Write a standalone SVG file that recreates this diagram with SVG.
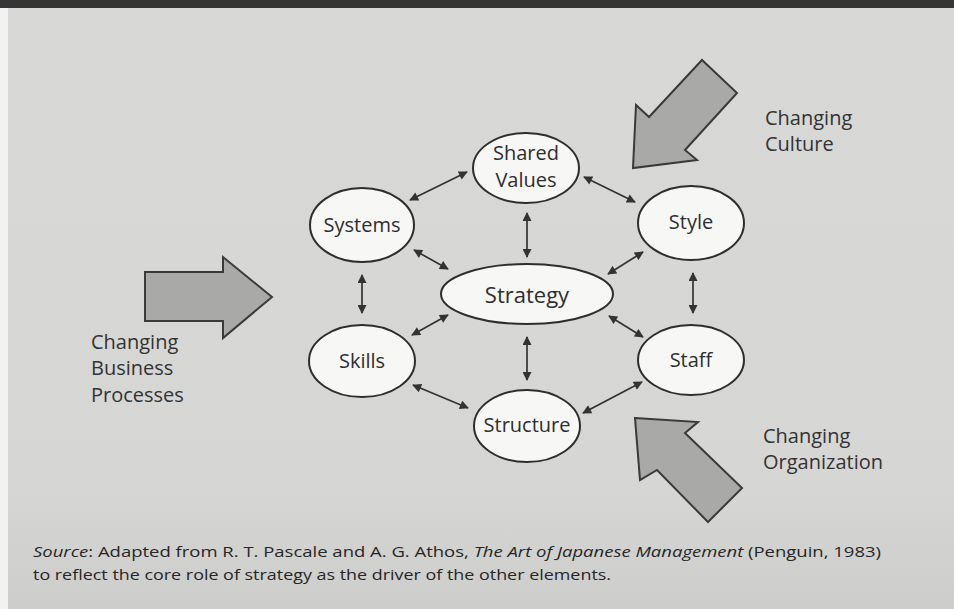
<svg xmlns="http://www.w3.org/2000/svg" width="954" height="609" viewBox="0 0 954 609">
  <defs>
    <marker id="head" viewBox="0 0 10 10" refX="9" refY="5" markerWidth="10" markerHeight="9" markerUnits="userSpaceOnUse" orient="auto-start-reverse">
      <path d="M0,0 L10,5 L0,10 Z" fill="#333"/>
    </marker>
    <linearGradient id="bg" x1="0" y1="0" x2="0" y2="1">
      <stop offset="0" stop-color="#d8d8d6"/>
      <stop offset="0.8" stop-color="#d6d6d4"/>
      <stop offset="1" stop-color="#cdcdcb"/>
    </linearGradient>
  </defs>
  <style>
    .node ellipse { fill: #f7f7f5; stroke: #2e2e2e; stroke-width: 2; }
    .node text { font-family: "Open Sans", "Noto Sans", sans-serif; font-size: 20px; font-weight: 500; fill: #2e2e2e; text-anchor: middle; }
    .link { stroke: #333; stroke-width: 1.7; fill: none; marker-start: url(#head); marker-end: url(#head); }
    .block { fill: #a9a9a7; stroke: #3a3a3a; stroke-width: 2; stroke-linejoin: miter; }
    .label { font-family: "Open Sans", "Noto Sans", sans-serif; font-size: 20px; font-weight: 500; fill: #333; }
    .note { font-family: "Open Sans", "Noto Sans", sans-serif; font-size: 15px; font-weight: 500; fill: #262626; }
  </style>

  <!-- page background, dark rule at top, white margin at left -->
  <rect x="0" y="0" width="954" height="609" fill="url(#bg)"/>
  <rect x="0" y="0" width="954" height="8" fill="#353535"/>
  <rect x="0" y="8" width="8" height="601" fill="#f2f2f2"/>

  <!-- block arrows for the three change drivers -->
  <g id="arrow-business">
    <polygon class="block" points="145,272 223,272 223,257 272,297 223,338 223,321 145,321"/>
  </g>
  <g id="arrow-culture">
    <polygon class="block" points="633,168 636,105 649,117 702,60 737,93 685,150 697,160"/>
  </g>
  <g id="arrow-organization">
    <polygon class="block" points="635,418 698,422 685,433 742,488 708,522 657,470 640,480"/>
  </g>

  <!-- connectors between the seven elements -->
  <g id="connectors">
    <line class="link" x1="410" y1="200" x2="467" y2="172"/>
    <line class="link" x1="584" y1="177" x2="635" y2="202"/>
    <line class="link" x1="527" y1="213" x2="527" y2="257"/>
    <line class="link" x1="414" y1="250" x2="448" y2="269"/>
    <line class="link" x1="643" y1="252" x2="608" y2="274"/>
    <line class="link" x1="362" y1="275" x2="362" y2="313"/>
    <line class="link" x1="693" y1="273" x2="693" y2="313"/>
    <line class="link" x1="448" y1="315" x2="412" y2="335"/>
    <line class="link" x1="609" y1="316" x2="643" y2="337"/>
    <line class="link" x1="527" y1="337" x2="527" y2="380"/>
    <line class="link" x1="413" y1="385" x2="468" y2="408"/>
    <line class="link" x1="642" y1="382" x2="583" y2="413"/>
  </g>

  <!-- element nodes -->
  <g id="shared-values" class="node">
    <ellipse cx="526" cy="168" rx="53" ry="35"/>
    <text x="526" y="160">Shared</text>
    <text x="526" y="187">Values</text>
  </g>
  <g id="systems" class="node">
    <ellipse cx="362" cy="225" rx="52" ry="37"/>
    <text x="362" y="232">Systems</text>
  </g>
  <g id="style" class="node">
    <ellipse cx="691" cy="223" rx="53" ry="37"/>
    <text x="691" y="229">Style</text>
  </g>
  <g id="strategy" class="node">
    <ellipse cx="527" cy="294" rx="86" ry="30"/>
    <text x="527" y="303" style="font-size:22px">Strategy</text>
  </g>
  <g id="skills" class="node">
    <ellipse cx="362" cy="361" rx="53" ry="36"/>
    <text x="362" y="368">Skills</text>
  </g>
  <g id="staff" class="node">
    <ellipse cx="691" cy="360" rx="53" ry="35"/>
    <text x="691" y="367">Staff</text>
  </g>
  <g id="structure" class="node">
    <ellipse cx="527" cy="426" rx="53" ry="36"/>
    <text x="527" y="432">Structure</text>
  </g>

  <!-- driver labels -->
  <text class="label" x="765" y="125">Changing</text>
  <text class="label" x="765" y="151">Culture</text>
  <text class="label" x="91" y="349">Changing</text>
  <text class="label" x="91" y="375">Business</text>
  <text class="label" x="91" y="402">Processes</text>
  <text class="label" x="763" y="443">Changing</text>
  <text class="label" x="763" y="469">Organization</text>

  <!-- source note -->
  <text class="note" x="33" y="557" textLength="848" lengthAdjust="spacingAndGlyphs"><tspan font-style="italic">Source</tspan>:  Adapted from R. T. Pascale and A. G. Athos, <tspan font-style="italic">The Art of Japanese Management</tspan> (Penguin, 1983)</text>
  <text class="note" x="33" y="580" textLength="578" lengthAdjust="spacingAndGlyphs">to reflect the core role of strategy as the driver of the other elements.</text>
</svg>
